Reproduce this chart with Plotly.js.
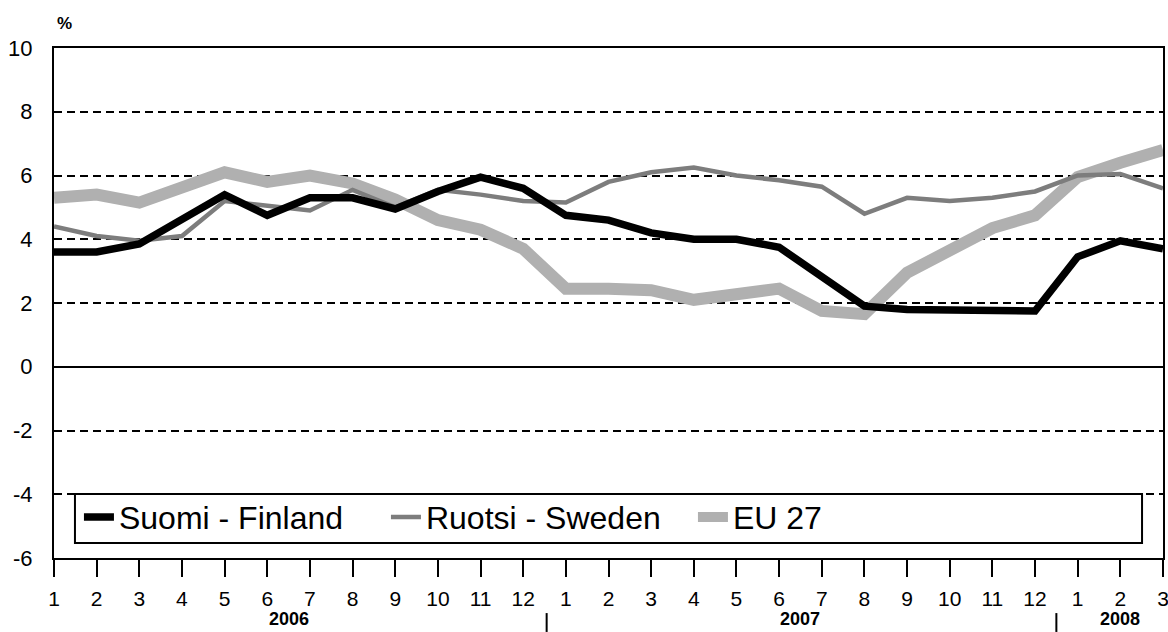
<!DOCTYPE html>
<html>
<head>
<meta charset="utf-8">
<script src="https://cdn.plot.ly/plotly-3.0.1.min.js"></script>
<style>html,body{margin:0;padding:0;background:#fff}#chart{width:1168px;height:632px}</style>
</head>
<body>
<div id="chart"></div>
<script>
var monthIndex = [1,2,3,4,5,6,7,8,9,10,11,12,13,14,15,16,17,18,19,20,21,22,23,24,25,26,27];
var monthLabels = ['1','2','3','4','5','6','7','8','9','10','11','12','1','2','3','4','5','6','7','8','9','10','11','12','1','2','3'];
var years = ['2006','2007','2008'];
var finland = [3.6,3.6,3.85,4.6,5.4,4.75,5.3,5.3,4.95,5.5,5.95,5.6,4.75,4.6,4.2,4.0,4.0,3.75,2.8,1.9,1.8,1.8,1.8,1.75,3.45,3.95,3.7];
var sweden  = [4.4,4.1,3.95,4.1,5.2,5.05,4.9,5.55,5.0,5.55,5.4,5.2,5.15,5.8,6.1,6.25,6.0,5.85,5.65,4.8,5.3,5.2,5.3,5.5,6.0,6.05,5.6];
var eu27    = [5.3,5.4,5.15,5.6,6.1,5.8,6.0,5.75,5.25,4.6,4.3,3.7,2.45,2.45,2.4,2.1,2.25,2.45,1.75,1.65,2.95,3.65,4.35,4.75,5.95,6.4,6.8];
var seriesNames = ['Suomi - Finland','Ruotsi - Sweden','EU 27'];
var yTicks = [-6,-4,-2,0,2,4,6,8,10];
var yTickText = ['-6','-4','-2','0','2','4','6','8','10'];

var font = 'Liberation Sans, Arial, sans-serif';
var traces = [
  {x: monthIndex, y: eu27, name: seriesNames[2], mode: 'lines', legendrank: 3,
   line: {color: '#b0b0b0', width: 12}},
  {x: monthIndex, y: sweden, name: seriesNames[1], mode: 'lines', legendrank: 2,
   line: {color: '#7d7d7d', width: 4.5}},
  {x: monthIndex, y: finland, name: seriesNames[0], mode: 'lines', legendrank: 1,
   line: {color: '#000000', width: 7.5}}
];

var layout = {
  width: 1168, height: 632,
  margin: {l: 54, r: 5, t: 48, b: 74},
  paper_bgcolor: '#fff', plot_bgcolor: '#fff',
  font: {family: font, color: '#000'},
  showlegend: true,
  legend: {orientation: 'h', x: 0.0225, y: 0.080, xanchor: 'left', yanchor: 'middle',
           bgcolor: 'rgba(0,0,0,0)', borderwidth: 0, font: {size: 32, family: font},
           traceorder: 'normal', itemwidth: 30, entrywidth: 262, entrywidthmode: 'pixels'},
  xaxis: {range: [1, 27], tickmode: 'array', tickvals: monthIndex, ticktext: monthLabels,
          ticks: 'outside', ticklen: 17, tickwidth: 2, tickcolor: '#000', ticklabelstandoff: 4,
          ticklabeloverflow: 'allow',
          showline: true, linecolor: '#000', linewidth: 2, mirror: true,
          showgrid: false, zeroline: false, tickfont: {size: 21, family: font}, fixedrange: true},
  yaxis: {range: [-6, 10], tickmode: 'array', tickvals: yTicks, ticktext: yTickText,
          showline: true, linecolor: '#000', linewidth: 2, mirror: true,
          showgrid: true, gridcolor: '#000', gridwidth: 2, griddash: '8px,5px',
          zeroline: true, zerolinecolor: '#000', zerolinewidth: 1.5,
          ticks: '', ticklabelstandoff: 15, tickfont: {size: 22, family: font}, fixedrange: true},
  shapes: [
    {type: 'rect', xref: 'paper', yref: 'paper', x0: 0.0189, x1: 0.9811, y0: 0.0294, y1: 0.1255,
     line: {color: '#000', width: 2}, fillcolor: 'rgba(255,255,255,1)', layer: 'above'},
    {type: 'line', xref: 'x', yref: 'paper', x0: 12.55, x1: 12.55, y0: -0.108, y1: -0.145,
     line: {color: '#000', width: 2}},
    {type: 'line', xref: 'x', yref: 'paper', x0: 24.5, x1: 24.5, y0: -0.108, y1: -0.145,
     line: {color: '#000', width: 2}}
  ],
  annotations: [
    {text: '<b>%</b>', xref: 'paper', yref: 'paper', x: 0.0099, y: 1.049, xanchor: 'center', yanchor: 'middle',
     showarrow: false, font: {size: 17, family: font}},
    {text: '<b>' + years[0] + '</b>', xref: 'x', yref: 'paper', x: 6.5, y: -0.142, yanchor: 'bottom',
     showarrow: false, borderpad: 0, font: {size: 18, family: font}},
    {text: '<b>' + years[1] + '</b>', xref: 'x', yref: 'paper', x: 18.5, y: -0.142, yanchor: 'bottom',
     showarrow: false, borderpad: 0, font: {size: 18, family: font}},
    {text: '<b>' + years[2] + '</b>', xref: 'x', yref: 'paper', x: 26.0, y: -0.142, yanchor: 'bottom',
     showarrow: false, borderpad: 0, font: {size: 18, family: font}}
  ]
};

Plotly.newPlot('chart', traces, layout, {staticPlot: true, displayModeBar: false});
</script>
</body>
</html>
